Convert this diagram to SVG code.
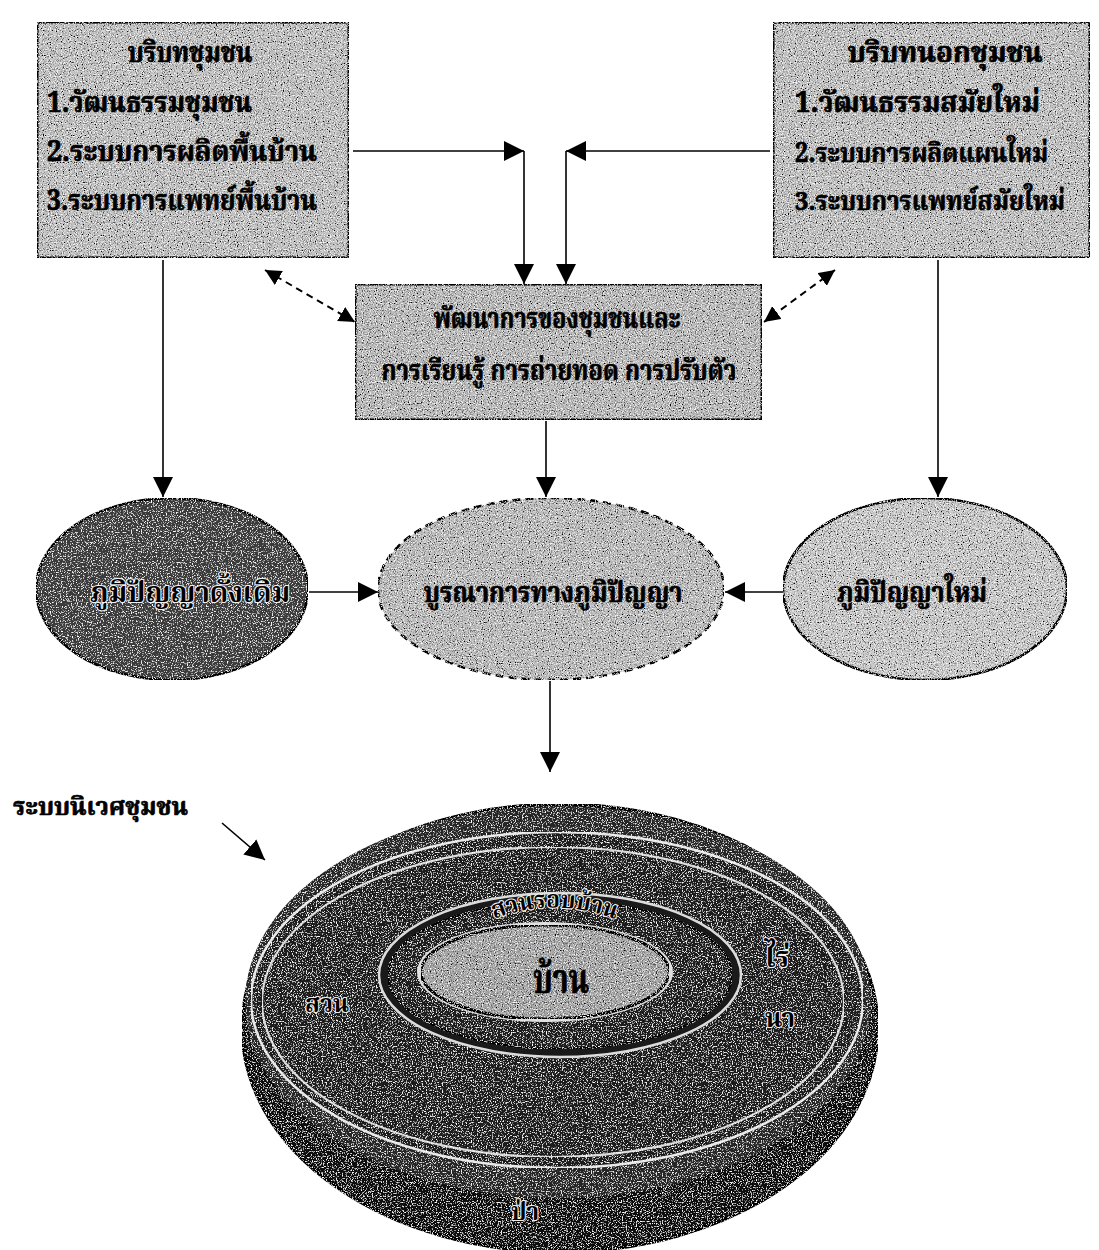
<svg xmlns="http://www.w3.org/2000/svg" width="1099" height="1250" viewBox="0 0 1099 1250">
<defs>
<style>
.th{font-family:'Noto Serif Thai','Noto Sans Thai','Liberation Serif',serif;font-weight:bold;fill:#000;stroke:#000;stroke-width:0.7}
.bx{stroke:#000;stroke-width:3}
.ln{fill:none;stroke:#000;stroke-width:1.6}
.dl{fill:none;stroke:#000;stroke-width:2;stroke-dasharray:7 5}
.dk{font-family:'Noto Serif Thai','Noto Sans Thai','Liberation Serif',serif;font-weight:bold;fill:#000;stroke:#f0f0f0;stroke-width:2.2;paint-order:stroke}
</style>
<marker id="ah" viewBox="0 0 20 20" refX="20" refY="10" markerWidth="20" markerHeight="20" markerUnits="userSpaceOnUse" orient="auto-start-reverse"><path d="M0,0 L20,10 L0,20 z" fill="#000"/></marker>
<marker id="as" viewBox="0 0 20 20" refX="20" refY="10" markerWidth="16" markerHeight="16" markerUnits="userSpaceOnUse" orient="auto-start-reverse"><path d="M0,0 L20,10 L0,20 z" fill="#000"/></marker>
<filter id="gl" x="0" y="0" width="100%" height="100%">
<feTurbulence type="fractalNoise" baseFrequency="0.85" numOctaves="2" seed="3" result="n"/>
<feColorMatrix in="n" type="matrix" values="0 0 0 0 0  0 0 0 0 0  0 0 0 0 0  0 0 0 4 -2.1" result="b"/>
<feColorMatrix in="n" type="matrix" values="0 0 0 0 1  0 0 0 0 1  0 0 0 0 1  0 0 0 -4 1.85" result="w"/>
<feMerge result="m"><feMergeNode in="b"/><feMergeNode in="w"/></feMerge>
<feComposite in="m" in2="SourceGraphic" operator="in" result="mm"/>
<feMerge><feMergeNode in="SourceGraphic"/><feMergeNode in="mm"/></feMerge>
</filter>
<filter id="gd" x="0" y="0" width="100%" height="100%">
<feTurbulence type="fractalNoise" baseFrequency="0.8" numOctaves="2" seed="7" result="n"/>
<feColorMatrix in="n" type="matrix" values="0 0 0 0 1  0 0 0 0 1  0 0 0 0 1  0 0 0 -4.5 2.05" result="w"/>
<feComposite in="w" in2="SourceGraphic" operator="in" result="wm"/>
<feMerge><feMergeNode in="SourceGraphic"/><feMergeNode in="wm"/></feMerge>
</filter>
<path id="arcTxt" d="M462,935 Q553,880 648,935"/>
</defs>
<rect width="1099" height="1250" fill="#fff"/>

<g id="node-community-context">
<rect class="bx" x="37" y="22" width="312" height="236" fill="#c2c2c2" filter="url(#gl)"/>
<text class="th" x="190" y="62" font-size="28" text-anchor="middle" textLength="125" lengthAdjust="spacingAndGlyphs">บริบทชุมชน</text>
<text class="th" x="47" y="112" font-size="28" textLength="205" lengthAdjust="spacingAndGlyphs">1.วัฒนธรรมชุมชน</text>
<text class="th" x="47" y="161" font-size="28" textLength="270" lengthAdjust="spacingAndGlyphs">2.ระบบการผลิตพื้นบ้าน</text>
<text class="th" x="47" y="210" font-size="28" textLength="270" lengthAdjust="spacingAndGlyphs">3.ระบบการแพทย์พื้นบ้าน</text>
</g>

<g id="node-outside-context">
<rect class="bx" x="773" y="22" width="317" height="236" fill="#c2c2c2" filter="url(#gl)"/>
<text class="th" x="945" y="62" font-size="28" text-anchor="middle" textLength="195" lengthAdjust="spacingAndGlyphs">บริบทนอกชุมชน</text>
<text class="th" x="795" y="112" font-size="28" textLength="245" lengthAdjust="spacingAndGlyphs">1.วัฒนธรรมสมัยใหม่</text>
<text class="th" x="795" y="162" font-size="27" textLength="253" lengthAdjust="spacingAndGlyphs">2.ระบบการผลิตแผนใหม่</text>
<text class="th" x="795" y="210" font-size="26" textLength="270" lengthAdjust="spacingAndGlyphs">3.ระบบการแพทย์สมัยใหม่</text>
</g>

<g id="node-development">
<rect class="bx" x="355" y="284" width="407" height="136" fill="#bbbbbb" filter="url(#gl)"/>
<text class="th" x="557" y="328" font-size="28" text-anchor="middle" textLength="247" lengthAdjust="spacingAndGlyphs">พัฒนาการของชุมชนและ</text>
<text class="th" x="559" y="380" font-size="28" text-anchor="middle" textLength="355" lengthAdjust="spacingAndGlyphs">การเรียนรู้ การถ่ายทอด การปรับตัว</text>
</g>

<g id="node-traditional-wisdom">
<ellipse cx="172" cy="589" rx="136" ry="91" fill="#3a3a3a" stroke="#000" stroke-width="2.5" filter="url(#gd)"/>
<text class="dk" x="190" y="602" font-size="28" text-anchor="middle" textLength="200" lengthAdjust="spacingAndGlyphs">ภูมิปัญญาดั้งเดิม</text>
</g>

<g id="node-integration">
<ellipse cx="551" cy="589" rx="173" ry="91" fill="#bdbdbd" stroke="#000" stroke-width="2.5" stroke-dasharray="8 5" filter="url(#gl)"/>
<text class="th" x="553" y="602" font-size="28" text-anchor="middle" textLength="259" lengthAdjust="spacingAndGlyphs">บูรณาการทางภูมิปัญญา</text>
</g>

<g id="node-new-wisdom">
<ellipse cx="925" cy="589" rx="142" ry="91" fill="#cacaca" stroke="#000" stroke-width="2.5" filter="url(#gl)"/>
<text class="th" x="912" y="602" font-size="28" text-anchor="middle" textLength="150" lengthAdjust="spacingAndGlyphs">ภูมิปัญญาใหม่</text>
</g>

<g id="label-ecosystem">
<text class="th" x="13" y="815" font-size="25" textLength="175" lengthAdjust="spacingAndGlyphs" stroke-width="0.4">ระบบนิเวศชุมชน</text>
</g>

<g id="node-ecosystem">
<ellipse cx="560" cy="1028" rx="318" ry="224" fill="#080808" stroke="#000" stroke-width="3" filter="url(#gd)"/>
<ellipse cx="558" cy="1002" rx="313" ry="196" fill="#262626" filter="url(#gd)"/>
<ellipse cx="557" cy="1000" rx="306" ry="168" fill="#1c1c1c" stroke="#e6e6e6" stroke-width="2.5" filter="url(#gd)"/>
<ellipse cx="553" cy="1002" rx="291" ry="155" fill="#1a1a1a" stroke="#d8d8d8" stroke-width="2.2" filter="url(#gd)"/>
<ellipse cx="560" cy="975" rx="181" ry="82" fill="#1a1a1a" stroke="#dcdcdc" stroke-width="2.5"/>
<ellipse cx="560" cy="975" rx="172" ry="74" fill="#1e1e1e" stroke="#000" stroke-width="2" filter="url(#gd)"/>
<ellipse cx="545" cy="972" rx="128" ry="50" fill="#e0e0e0"/>
<ellipse cx="545" cy="972" rx="124" ry="47" fill="#a8a8a8" stroke="#000" stroke-width="3" filter="url(#gl)"/>
<text class="dk" font-size="24"><textPath href="#arcTxt" startOffset="50%" text-anchor="middle" textLength="124" lengthAdjust="spacingAndGlyphs">สวนรอบบ้าน</textPath></text>
<text class="th" x="561" y="993" font-size="40" text-anchor="middle" textLength="56" lengthAdjust="spacingAndGlyphs">บ้าน</text>
<text class="dk" x="327" y="1012" font-size="24" text-anchor="middle" stroke="#bbb" fill="#111">สวน</text>
<text class="dk" x="777" y="967" font-size="28" text-anchor="middle">ไร่</text>
<text class="dk" x="780" y="1027" font-size="26" text-anchor="middle">นา</text>
<text class="dk" x="525" y="1220" font-size="24" text-anchor="middle" fill="#222" stroke="#999">ป่า</text>
</g>

<g id="connectors">
<path class="ln" d="M353,151 H524" marker-end="url(#ah)"/>
<path class="ln" d="M524,151 V284" marker-end="url(#ah)"/>
<path class="ln" d="M770,151 H566" marker-end="url(#ah)"/>
<path class="ln" d="M566,151 V284" marker-end="url(#ah)"/>
<path class="dl" d="M265,270 L355,322" marker-start="url(#as)" marker-end="url(#as)"/>
<path class="dl" d="M835,270 L764,322" marker-start="url(#as)" marker-end="url(#as)"/>
<path class="ln" d="M163,260 V497" marker-end="url(#ah)"/>
<path class="ln" d="M546,421 V497" marker-end="url(#ah)"/>
<path class="ln" d="M938,260 V497" marker-end="url(#ah)"/>
<path class="ln" d="M309,592 H378" marker-end="url(#ah)"/>
<path class="ln" d="M783,592 H725" marker-end="url(#ah)"/>
<path class="ln" d="M550,681 V772" marker-end="url(#ah)"/>
<path class="ln" d="M222,823 L265,860" marker-end="url(#ah)"/>
</g>
</svg>
